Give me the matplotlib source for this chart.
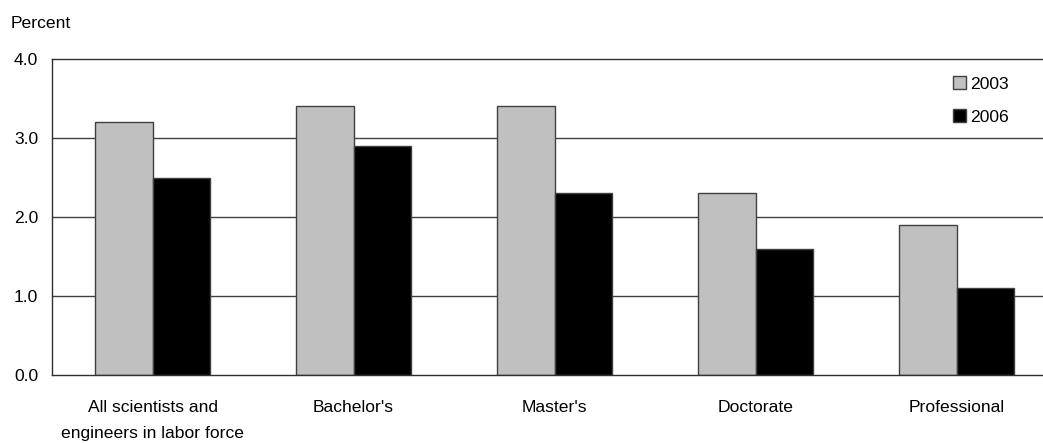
import matplotlib.pyplot as plt
import numpy as np

plt.rcParams['font.family'] = ['Liberation Sans', 'DejaVu Sans']

categories = ['All scientists and\nengineers in labor force', "Bachelor's", "Master's",
              'Doctorate', 'Professional']
series_names = ['2003', '2006']
v2003 = [3.2, 3.4, 3.4, 2.3, 1.9]
v2006 = [2.5, 2.9, 2.3, 1.6, 1.1]
yticks = [0.0, 1.0, 2.0, 3.0, 4.0]

fs = 12.6
fig = plt.figure(figsize=(10.43, 4.43), dpi=100)
# axes runs a little past the right edge of the picture
ax = fig.add_axes([52/1043, 68/443, 1005/1043, 316/443])

x = np.arange(len(categories))
w = 0.286
ax.bar(x - w/2, v2003, w, color='#c0c0c0', edgecolor='#404040', linewidth=1,
       label=series_names[0], zorder=2)
ax.bar(x + w/2, v2006, w, color='#000000', edgecolor='#404040', linewidth=1,
       label=series_names[1], zorder=2)

ax.set_xlim(-0.5, 4.5)
ax.set_ylim(0, 4)
ax.set_yticks(yticks)
ax.set_yticklabels(['%.1f' % t for t in yticks], fontsize=fs)
ax.set_xticks(x)
ax.set_xticklabels(categories, fontsize=fs, linespacing=1.9)
ax.tick_params(axis='y', length=0, pad=10)
ax.tick_params(axis='x', length=0, pad=18)
for yy in yticks[1:-1]:
    ax.axhline(yy, color='#404040', linewidth=1, zorder=1)
for s in ['top', 'left', 'bottom']:
    ax.spines[s].set_color('#303030')
    ax.spines[s].set_linewidth(1)
ax.spines['right'].set_visible(False)

fig.text(11/1043, 1 - 23/443, 'Percent', fontsize=fs, va='center', ha='left')

ax.legend(loc='upper left', bbox_to_anchor=(948/1043, 1 - 71/443),
          bbox_transform=fig.transFigure, frameon=False, fontsize=fs,
          handlelength=0.75, handleheight=0.75, handletextpad=0.2, labelspacing=1.0,
          borderaxespad=0, borderpad=0.3)

fig.savefig('out.png', dpi=100)
